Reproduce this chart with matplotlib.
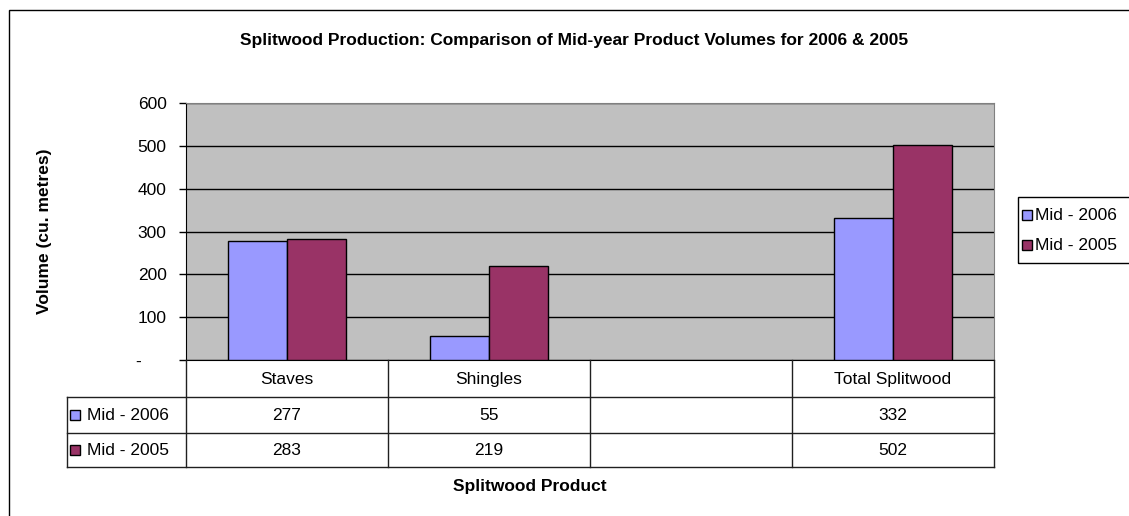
import numpy as np
import matplotlib.pyplot as plt
from matplotlib.patches import Rectangle

# Data
categories = ['Staves', 'Shingles', '', 'Total Splitwood']
mid_2006 = [277, 55, np.nan, 332]
mid_2005 = [283, 219, np.nan, 502]
series_names = ['Mid - 2006', 'Mid - 2005']
yticks = [0, 100, 200, 300, 400, 500, 600]
ytick_labels = ['-     ', '100', '200', '300', '400', '500', '600']

c2006 = '#9999FF'
c2005 = '#993366'
W, H = 1129, 516
fs = 12.5

plt.rcParams['font.family'] = ['Liberation Sans', 'DejaVu Sans']

fig = plt.figure(figsize=(W / 100, H / 100), dpi=100)

def fx(px):
    return px / W

def fy(py):
    return 1 - py / H

# outer chart border
fig.patches.append(Rectangle((fx(9), fy(560)), fx(1200), fy(10) - fy(560),
                             transform=fig.transFigure, fill=False,
                             edgecolor='black', lw=1, clip_on=False))

# plot area
ax = fig.add_axes([fx(186), fy(360), fx(994) - fx(186), fy(103) - fy(360)])
ax.set_facecolor('#C0C0C0')
x = np.arange(len(categories))
w = 0.29
ax.bar(x - w / 2, mid_2006, w, color=c2006, edgecolor='black', lw=1, zorder=3)
ax.bar(x + w / 2, mid_2005, w, color=c2005, edgecolor='black', lw=1, zorder=3)
ax.set_xlim(-0.5, len(categories) - 0.5)
ax.set_ylim(0, 600)
ax.set_yticks(yticks)
ax.set_yticklabels(ytick_labels, fontsize=fs)
ax.yaxis.grid(True, color='black', lw=1, zorder=1)
ax.set_axisbelow(True)
ax.set_xticks([])
ax.tick_params(axis='y', length=5, width=1, pad=9)
for s in ['top', 'right']:
    ax.spines[s].set_color('#808080')
ax.spines['left'].set_color('black')
ax.spines['bottom'].set_color('black')

# data table
tax = fig.add_axes([fx(186), fy(467), fx(994) - fx(186), fy(360) - fy(467)])
tax.set_xlim(-0.5, len(categories) - 0.5)
tax.set_ylim(467, 360)
tax.axis('off')
left = -0.5 - (186 - 67) / 202
rows = [(360, 397), (397, 433), (433, 467)]
lc = '#202020'
for yy in [397, 433, 467]:
    tax.plot([left, 3.5], [yy, yy], color=lc, lw=1, clip_on=False)
tax.plot([left, left], [397, 467], color=lc, lw=1, clip_on=False)
for b in np.arange(-0.5, 4.0, 1.0):
    tax.plot([b, b], [360, 467], color=lc, lw=1, clip_on=False)
for i, cat in enumerate(categories):
    tax.text(i, 379, cat, ha='center', va='center', fontsize=fs)
    for vals, (y0, y1) in [(mid_2006, rows[1]), (mid_2005, rows[2])]:
        if not np.isnan(vals[i]):
            tax.text(i, (y0 + y1) / 2, '%d' % vals[i], ha='center',
                     va='center', fontsize=fs)
for name, col, (y0, y1) in [(series_names[0], c2006, rows[1]),
                            (series_names[1], c2005, rows[2])]:
    yc = (y0 + y1) / 2
    tax.plot([left + 0.04], [yc], marker='s', ms=6.5, mfc=col, mec='black',
             mew=1, clip_on=False)
    tax.text(left + 0.1, yc, name, ha='left', va='center', fontsize=fs)

# titles
fig.text(fx(574), fy(40), 'Splitwood Production: Comparison of Mid-year Product Volumes for 2006 & 2005',
         ha='center', va='center', fontsize=fs, fontweight='bold')
fig.text(fx(45), fy(231), 'Volume (cu. metres)', rotation=90, ha='center',
         va='center', fontsize=fs, fontweight='bold')
fig.text(fx(530), fy(486), 'Splitwood Product', ha='center', va='center',
         fontsize=fs, fontweight='bold')

# legend
fig.patches.append(Rectangle((fx(1018), fy(263)), fx(200), fy(197) - fy(263),
                             transform=fig.transFigure, fill=False,
                             edgecolor='black', lw=1, clip_on=False))
for name, col, py in [(series_names[0], c2006, 215), (series_names[1], c2005, 245)]:
    fig.lines.append(plt.Line2D([fx(1027)], [fy(py)], marker='s', ms=6.5, mfc=col,
                                mec='black', mew=1, transform=fig.transFigure))
    fig.text(fx(1035), fy(py), name, ha='left', va='center', fontsize=fs)

fig.savefig('out.png', dpi=100)
